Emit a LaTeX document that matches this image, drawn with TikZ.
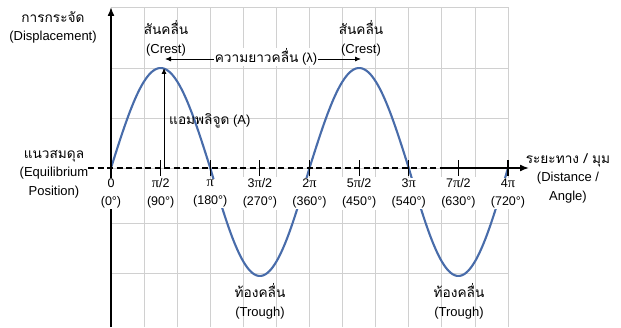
\documentclass[tikz,border=0pt]{standalone}
\usepackage{fontspec}
\setmainfont{Liberation Sans}
\newfontfamily\thai[Script=Thai,Scale=1.05]{Loma}
\newfontfamily\grk[Scale=1.15]{Liberation Serif}
\newcommand\pis{{\grk π}}
\usetikzlibrary{arrows.meta}
\definecolor{wavec}{RGB}{72,108,170}
\definecolor{gridc}{RGB}{208,208,208}
\begin{document}
\begin{tikzpicture}[x=1pt,y=1pt,
  gridline/.style={gridc, line width=0.7pt},
  axisline/.style={black, line width=1.6pt},
  wave/.style={wavec, line width=2.1pt},
  lbl/.style={font=\fontsize{13}{18.5}\selectfont, align=center, inner sep=1pt},
  ticklbl/.style={lbl, fill=white, font=\fontsize{12.5}{18.5}\selectfont},
  dimarrow/.style={black, line width=0.9pt},
  tickmark/.style={black, line width=1.2pt}]
\useasboundingbox (0,0) rectangle (621,327);
\fill[white] (0,0) rectangle (621,327);
% grid
\foreach \k in {1,...,12} \draw[gridline] ({111+\k*33.083},0) -- ({111+\k*33.083},320);
\foreach \yy in {320,259,209,159,104,54} \draw[gridline] (111,\yy) -- (508,\yy);
% wave
\draw[wave] plot[domain=0:720, samples=181, smooth]
  ({111+\x/720*397}, {159 + 104*sin(\x) - 4*abs(sin(\x))});
% axes
\coordinate (xstart) at (88,159);
\coordinate (xmid) at (442,159);
\coordinate (xend) at (529,159);
\coordinate (ybot) at (111,0);
\coordinate (ytop) at (111,320);
\draw[axisline, dash pattern=on 6pt off 3.5pt] (xstart) -- (xmid);
\draw[axisline, -{Latex[length=9pt,width=7pt]}] (xmid) -- (xend);
\draw[axisline, -{Latex[length=9pt,width=7pt]}] (ybot) -- (ytop);
% ticks
\foreach \k in {1,...,8} \draw[tickmark] ({111+\k*49.625},151) -- ({111+\k*49.625},167);
% tick labels
\foreach \k/\a/\b in {0/0/0, 1/{\pis/2}/90, 2/\pis/180, 3/{3\pis/2}/270, 4/2\pis/360,
    5/{5\pis/2}/450, 6/3\pis/540, 7/{7\pis/2}/630, 8/4\pis/720}
  \node[ticklbl] (t\k) at ({111+\k*49.625},133.5) {\a\\(\b°)};
% wavelength arrow
\coordinate (c1) at (165,268);
\coordinate (c2) at (361,268);
\draw[dimarrow, {Latex[length=6pt,width=5pt]}-{Latex[length=6pt,width=5pt]}] (c1) -- (c2);
\node[lbl, fill=white] (wl) at (266,270) {{\thai ความยาวคลื่น} (λ)};
% amplitude arrow
\coordinate (a0) at (164,159);
\coordinate (a1) at (164,259);
\draw[dimarrow, -{Latex[length=6pt,width=5pt]}] (a0) -- (a1);
\node[lbl, anchor=west] (amp) at (168,206) {{\thai แอมพลิจูด} (A)};
% text labels
\node[lbl] (disp) at (53,299.5) {{\thai การกระจัด}\\(Displacement)};
\node[lbl] (crest1) at (166,288.5) {{\thai สันคลื่น}\\(Crest)};
\node[lbl] (crest2) at (361,288.5) {{\thai สันคลื่น}\\(Crest)};
\node[lbl] (equi) at (54,153) {{\thai แนวสมดุล}\\(Equilibrium\\Position)};
\node[lbl] (dist) at (568,149) {{\thai ระยะทาง / มุม}\\(Distance /\\Angle)};
\node[lbl] (tr1) at (260,25.5) {{\thai ท้องคลื่น}\\(Trough)};
\node[lbl] (tr2) at (459,25.5) {{\thai ท้องคลื่น}\\(Trough)};
\end{tikzpicture}
\end{document}
